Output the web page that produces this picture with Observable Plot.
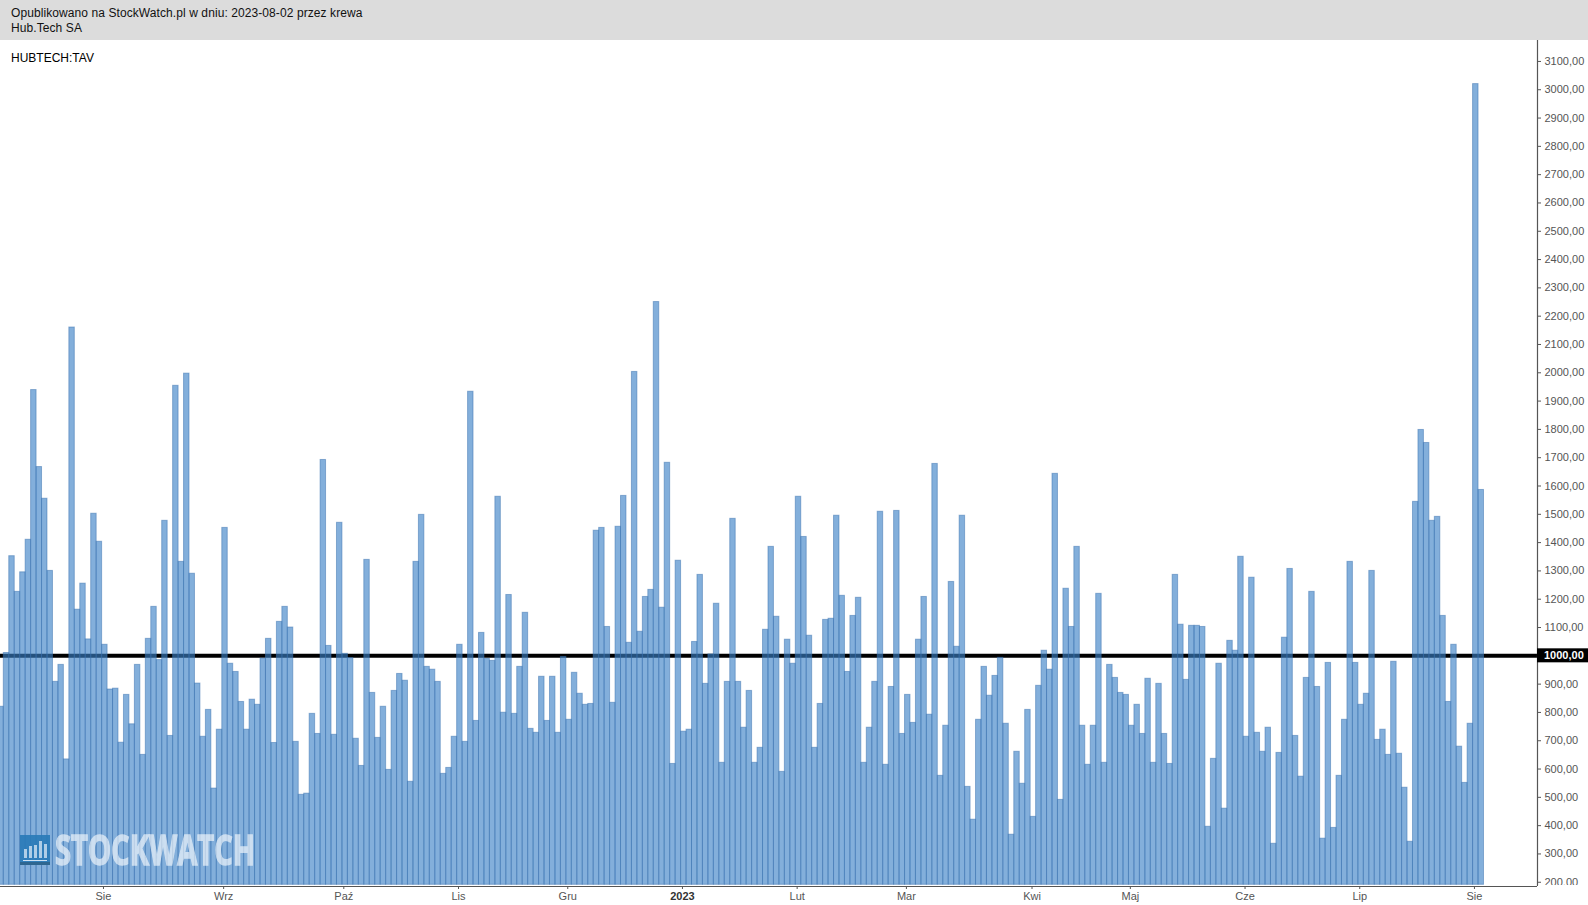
<!DOCTYPE html>
<html lang="pl">
<head>
<meta charset="utf-8">
<title>Hub.Tech SA</title>
<script src="https://cdn.jsdelivr.net/npm/d3@7"></script>
<script src="https://cdn.jsdelivr.net/npm/@observablehq/plot@0.6"></script>
<style>
html,body{margin:0;padding:0;background:#fff;overflow:hidden;width:1588px;height:905px;font-family:"Liberation Sans",Arial,sans-serif}
#band{height:40px;background:#dcdcdc;color:#111;font-size:12px;line-height:15px;letter-spacing:.085px;padding:6px 0 0 11px;box-sizing:border-box}
#symbol{position:absolute;left:11px;top:51px;font-size:12px;line-height:14px;color:#000}
#chart{position:relative}
#chart svg{display:block}
#mark{position:absolute;left:0;top:0;pointer-events:none}
</style>
</head>
<body>
<div id="band">Opublikowano na StockWatch.pl w dniu: 2023-08-02 przez krewa<br>Hub.Tech SA</div>
<div id="chart"></div>
<div id="symbol">HUBTECH:TAV</div>
<script>
const volumes = [
820,1010,1352,1226,1295,1410,1939,1667,1555,1300,908,968,634,2160,1163,1255,1058,1502,1403,1039,
881,884,693,862,758,968,650,1060,1173,985,1477,717,1954,1332,1997,1290,902,714,809,531,
739,1452,972,943,837,739,845,827,990,1060,692,1120,1173,1100,696,
509,513,795,724,1692,1035,721,1470,1007,992,707,611,1339,869,710,820,597,876,936,912,
555,1332,1498,961,951,908,583,604,714,1039,696,1933,770,1081,989,982,1562,799,1215,795,
961,1152,742,728,926,770,926,728,996,774,940,866,827,830,1442,
1452,1102,834,1456,1565,1046,2003,1085,1208,1233,2250,1170,1682,618,1336,732,739,1049,1286,901,
1005,1184,622,908,1484,908,746,876,622,675,1092,1385,1138,590,1057,972,1562,1420,1071,675,
830,1127,1131,1495,1212,943,1141,1205,622,746,908,1509,615,
890,1512,724,862,763,1057,1208,792,1678,576,753,1261,1032,1495,537,421,774,961,859,929,
993,760,368,661,548,809,431,894,1018,951,1643,491,1237,1102,1385,753,615,753,1219,622,
968,922,869,862,753,827,724,919,622,901,724,618,1286,1110,915,
1106,1106,1102,396,636,972,460,1053,1018,1350,714,1276,728,661,746,336,657,1064,1307,717,
573,922,1226,890,354,975,392,576,774,1332,975,827,866,1300,703,739,650,979,654,534,
343,1544,1798,1752,1477,1491,1141,837,1039,679,551,760,3020,1586
];
const monthBars = [19,41,63,84,104,146,166,189,207,228,249,270];
const monthLabels = ["Sie","Wrz","Paź","Lis","Gru","Lut","Mar","Kwi","Maj","Cze","Lip","Sie"];
const yearBars = [125];
const yearLabels = ["2023"];
const yTicks = d3.range(200, 3101, 100);
const refLevel = [1000];

const W = 1588, H = 865, axisX = 1537;
const firstEdge = 3.3, lastEdge = 1483.5;
const pitch = (lastEdge - firstEdge) / (volumes.length - 1);
const xDomain = [1 - firstEdge / pitch, 1 + (axisX - firstEdge) / pitch];
const yDomain = [185, 3174];
const barBase = 191;
const tickOffset = 0.25;
const fmt = v => d3.format(".2f")(v).replace(".", ",");
const labelFont = {fontSize: 11, fontFamily: "'Liberation Sans',Arial,sans-serif"};

const chart = Plot.plot({
  width: W, height: H,
  marginTop: 0, marginLeft: 0, marginRight: W - axisX, marginBottom: 19,
  style: {background: "#fff", overflow: "visible"},
  x: {type: "linear", domain: xDomain},
  y: {type: "linear", domain: yDomain},
  marks: [
    Plot.ruleY(refLevel, {stroke: "#000", strokeWidth: 4}),
    Plot.rectY(volumes, {
      x1: (d, i) => i, x2: (d, i) => i + 1,
      y1: barBase, y2: d => d,
      fill: "#3a80c6", fillOpacity: 0.63,
      stroke: "#3a72b0", strokeOpacity: 0.5, strokeWidth: 1
    }),
    Plot.ruleY([yDomain[0]], {stroke: "#555", strokeWidth: 1.2}),
    Plot.ruleX([xDomain[1]], {stroke: "#555", strokeWidth: 1.2}),
    Plot.axisY(yTicks.filter(t => !refLevel.includes(t)), {
      anchor: "right", label: null, tickSize: 3, tickPadding: 4,
      stroke: "#555", color: "#555", tickFormat: fmt, ...labelFont
    }),
    Plot.axisX(monthBars.map(b => b + tickOffset), {
      anchor: "bottom", label: null, tickSize: 3, tickPadding: 3, stroke: "#555", color: "#555",
      tickFormat: (v, i) => monthLabels[i], ...labelFont
    }),
    Plot.axisX(yearBars.map(b => b + tickOffset), {
      anchor: "bottom", label: null, tickSize: 3, tickPadding: 3, stroke: "#555", color: "#333",
      fontWeight: "bold", tickFormat: (v, i) => yearLabels[i], ...labelFont
    }),
    // black value tag for the reference level, placed through the y scale
    (index, {y}) => {
      const g = d3.create("svg:g");
      g.append("rect").attr("x", axisX).attr("y", y(refLevel[0]) - 7).attr("width", W - axisX).attr("height", 14).attr("fill", "#000");
      g.append("text").attr("x", axisX + 7).attr("y", y(refLevel[0]) + 4)
        .attr("fill", "#fff").attr("font-weight", "bold").attr("font-size", 11).attr("text-anchor", "start")
        .attr("font-family", "'Liberation Sans',Arial,sans-serif")
        .text(fmt(refLevel[0]));
      // the lowest tick label is cut off by the bottom edge of the price pane
      g.append("rect").attr("x", axisX + 1).attr("y", y(yDomain[0]) - 1).attr("width", W - axisX).attr("height", 5).attr("fill", "#fff");
      return g.node();
    }
  ]
});
document.getElementById("chart").append(chart);

// watermark
const wm = d3.select("#chart").append("svg").attr("id", "mark").attr("width", W).attr("height", H);
wm.append("defs").append("filter").attr("id", "soft").append("feGaussianBlur").attr("stdDeviation", 0.6);
const wg = wm.append("g").attr("filter", "url(#soft)");
wg.append("rect").attr("x", 20).attr("y", 795).attr("width", 30).attr("height", 30).attr("fill", "#2a7ab8").attr("opacity", 0.9);
wg.append("rect").attr("x", 20).attr("y", 822).attr("width", 30).attr("height", 3).attr("fill", "#2d6690");
[[24,9],[29,12],[34,13],[39,17],[44,14]].forEach(([bx, bh]) =>
  wg.append("rect").attr("x", bx).attr("y", 818 - bh).attr("width", 3).attr("height", bh).attr("fill", "#cfe2f3").attr("opacity", 0.8));
wg.append("rect").attr("x", 23).attr("y", 820).attr("width", 24).attr("height", 1).attr("fill", "#cfe2f3");
wg.append("text").attr("x", 55).attr("y", 825).attr("textLength", 200).attr("lengthAdjust", "spacingAndGlyphs")
  .attr("font-family", "'Open Sans','Noto Sans',sans-serif").attr("font-weight", "bold").attr("font-size", 41)
  .attr("fill", "#fff").attr("stroke", "#fff").attr("stroke-width", 1.4).attr("opacity", 0.6).text("STOCKWATCH");
</script>
</body>
</html>
